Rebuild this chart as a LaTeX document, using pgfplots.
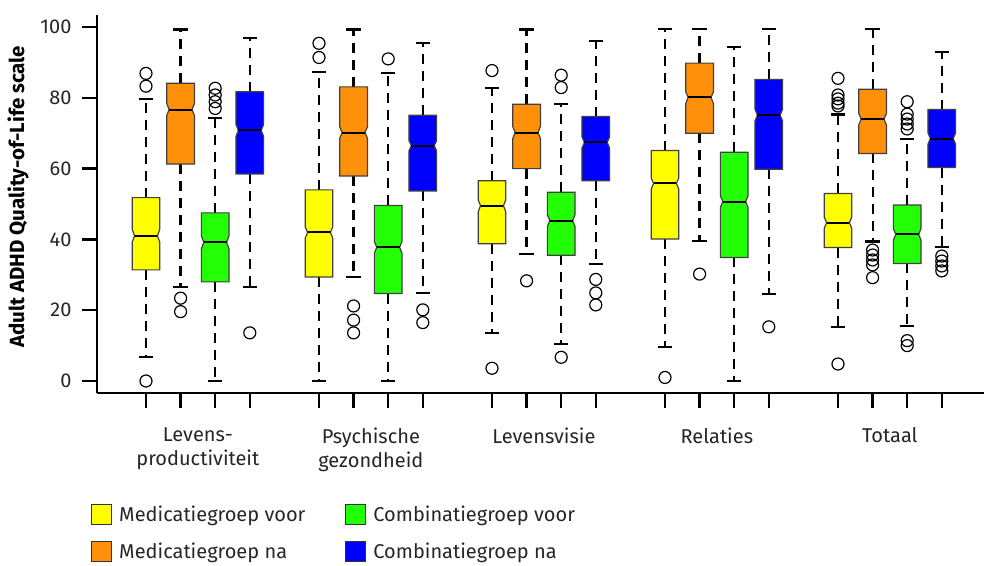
\documentclass[border=0pt]{standalone}
\usepackage{pgfplots}
\pgfplotsset{compat=1.18}
\usepackage{fontspec}
\setmainfont{Fira Sans}
\definecolor{cYel}{RGB}{255,255,0}
\definecolor{cOra}{RGB}{255,145,10}
\definecolor{cGre}{RGB}{35,255,5}
\definecolor{cBlu}{RGB}{0,0,255}
\pgfplotsset{
  whisker/.style={black, line width=2.2pt, dash pattern=on 10pt off 7pt, forget plot},
  staple/.style={black, line width=2.2pt, forget plot},
  boxst/.style={draw=black!75, line width=1.2pt, forget plot},
  medst/.style={black, line width=2pt, forget plot},
  outl/.style={only marks, mark=o, mark size=6pt, mark options={line width=1.2pt, black}, forget plot},
}
% #1 pos, #2 lower whisker, #3 Q1, #4 notch low, #5 median, #6 notch high, #7 Q3, #8 upper whisker, #9 colour
\newcommand{\nbox}[9]{%
  \pgfmathsetmacro\xa{#1-0.4}\pgfmathsetmacro\xb{#1+0.4}%
  \pgfmathsetmacro\xc{#1-0.33}\pgfmathsetmacro\xd{#1+0.33}%
  \pgfmathsetmacro\sa{#1-0.21}\pgfmathsetmacro\sb{#1+0.21}%
  \edef\doit{%
    \noexpand\addplot[whisker] coordinates {(#1,#7) (#1,#8)};
    \noexpand\addplot[whisker] coordinates {(#1,#3) (#1,#2)};
    \noexpand\addplot[staple] coordinates {(\sa,#8) (\sb,#8)};
    \noexpand\addplot[staple] coordinates {(\sa,#2) (\sb,#2)};
    \noexpand\addplot[boxst, fill=#9] coordinates {(\xa,#3) (\xb,#3) (\xb,#4) (\xd,#5) (\xb,#6) (\xb,#7) (\xa,#7) (\xa,#6) (\xc,#5) (\xa,#4)} -- cycle;
    \noexpand\addplot[medst] coordinates {(\xc,#5) (\xd,#5)};
  }\doit}
\begin{document}
\begin{tikzpicture}
\useasboundingbox (-97pt,-172pt) rectangle (887pt,393pt);
\begin{axis}[
  at={(0pt,0pt)}, anchor=south west,
  width=887pt, height=378pt, scale only axis,
  xmin=-0.416, xmax=25.22, ymin=-3.39, ymax=103.4,
  axis x line*=bottom, axis y line*=left,
  axis line style={line width=2.5pt, black},
  every tick/.style={line width=2.5pt, black},
  tick align=outside, major tick length=15pt,
  clip=false,
  xtick={1,2,3,4,6,7,8,9,11,12,13,14,16,17,18,19,21,22,23,24},
  xticklabels={},
  ytick={0,20,40,60,80,100},
  /pgf/number format/assume math mode=true,
  tick label style={font=\fontsize{20}{24}\selectfont, text=black!85},
  yticklabel style={xshift=-7pt},
  extra x ticks={2.5,7.5,12.5,17.5,22.5},
  extra x tick labels={{Levens-\\productiviteit},{Psychische\\gezondheid},Levensvisie,Relaties,Totaal},
  extra x tick style={major tick length=0pt, tick label style={align=center, yshift=-31pt}},
  ylabel={Adult ADHD Quality-of-Life scale},
  every axis y label/.style={at={(axis description cs:0,0.519)}, xshift=-79pt, rotate=90, anchor=center, font=\bfseries\fontsize{20.5}{23}\selectfont},
  legend columns=2, transpose legend,
  legend cell align=left,
  legend image code/.code={\draw[#1, draw=black!80, line width=1pt] (0pt,-10pt) rectangle (20pt,10pt);},
  legend style={at={(axis description cs:0,0)}, anchor=north west, xshift=-6pt, yshift=-111pt,
    draw=none, fill=none, inner sep=0pt, row sep=16pt,
    font=\fontsize{20}{24}\selectfont, text=black!85,
    /tikz/every odd column/.append style={column sep=5pt},
    /tikz/every even column/.append style={column sep=38pt}},
]
\addlegendimage{fill=cYel}\addlegendentry{Medicatiegroep voor}
\addlegendimage{fill=cOra}\addlegendentry{Medicatiegroep na}
\addlegendimage{fill=cGre}\addlegendentry{Combinatiegroep voor}
\addlegendimage{fill=cBlu}\addlegendentry{Combinatiegroep na}

% Levensproductiviteit
\nbox{1}{6.8}{31.4}{39.2}{41.0}{42.9}{51.8}{79.6}{cYel}
\nbox{2}{26.6}{61.3}{75.0}{76.7}{78.4}{84.1}{99.3}{cOra}
\nbox{3}{0.0}{28.0}{37.3}{39.2}{41.0}{47.5}{74.2}{cGre}
\nbox{4}{26.6}{58.5}{69.1}{70.8}{72.5}{81.7}{97.0}{cBlu}
% Psychische gezondheid
\nbox{6}{0.0}{29.4}{40.3}{42.0}{43.6}{54.0}{87.4}{cYel}
\nbox{7}{29.4}{57.9}{68.6}{70.2}{71.8}{83.1}{99.3}{cOra}
\nbox{8}{0.0}{24.7}{36.1}{37.8}{39.4}{49.6}{87.1}{cGre}
\nbox{9}{24.8}{53.7}{65.0}{66.5}{67.9}{75.1}{95.6}{cBlu}
% Levensvisie
\nbox{11}{13.5}{38.8}{47.8}{49.5}{51.2}{56.6}{82.7}{cYel}
\nbox{12}{35.9}{60.0}{68.5}{70.2}{71.9}{78.2}{99.3}{cOra}
\nbox{13}{10.5}{35.5}{43.6}{45.3}{47.0}{53.3}{78.2}{cGre}
\nbox{14}{33.1}{56.6}{65.8}{67.4}{69.0}{74.7}{96.0}{cBlu}
% Relaties
\nbox{16}{9.7}{40.1}{54.2}{55.8}{57.4}{65.1}{99.4}{cYel}
\nbox{17}{39.6}{70.0}{78.4}{80.1}{81.7}{89.8}{99.4}{cOra}
\nbox{18}{0.0}{34.9}{49.0}{50.7}{52.3}{64.6}{94.4}{cGre}
\nbox{19}{24.6}{59.8}{73.4}{75.1}{76.8}{85.2}{99.4}{cBlu}
% Totaal
\nbox{21}{15.2}{37.7}{43.1}{44.7}{46.4}{53.0}{75.3}{cYel}
\nbox{22}{39.4}{64.3}{72.3}{74.0}{75.6}{82.4}{99.4}{cOra}
\nbox{23}{15.6}{33.2}{39.8}{41.4}{43.1}{49.7}{68.4}{cGre}
\nbox{24}{37.9}{60.3}{66.9}{68.5}{70.1}{76.7}{93.0}{cBlu}

% outliers
\addplot[outl] coordinates {
 (1,86.9) (1,83.3) (1,0.0)
 (2,23.4) (2,19.6)
 (3,82.7) (3,80.8) (3,78.9) (3,77.0)
 (4,13.6)
 (6,95.4) (6,91.4)
 (7,21.2) (7,17.2) (7,13.6)
 (8,91.0)
 (9,20.1) (9,16.5)
 (11,87.7) (11,3.6)
 (12,28.3)
 (13,86.4) (13,82.9) (13,6.7)
 (14,28.7) (14,24.9) (14,21.5)
 (16,1.0)
 (17,30.2)
 (19,15.3)
 (21,85.5) (21,80.8) (21,79.7) (21,78.5) (21,77.7) (21,4.8)
 (22,37.0) (22,35.6) (22,34.2) (22,32.8) (22,29.2)
 (23,78.9) (23,75.4) (23,74.0) (23,72.6) (23,71.2) (23,11.4) (23,10.0)
 (24,35.3) (24,33.9) (24,32.5) (24,31.1)
};
\end{axis}
\end{tikzpicture}
\end{document}
